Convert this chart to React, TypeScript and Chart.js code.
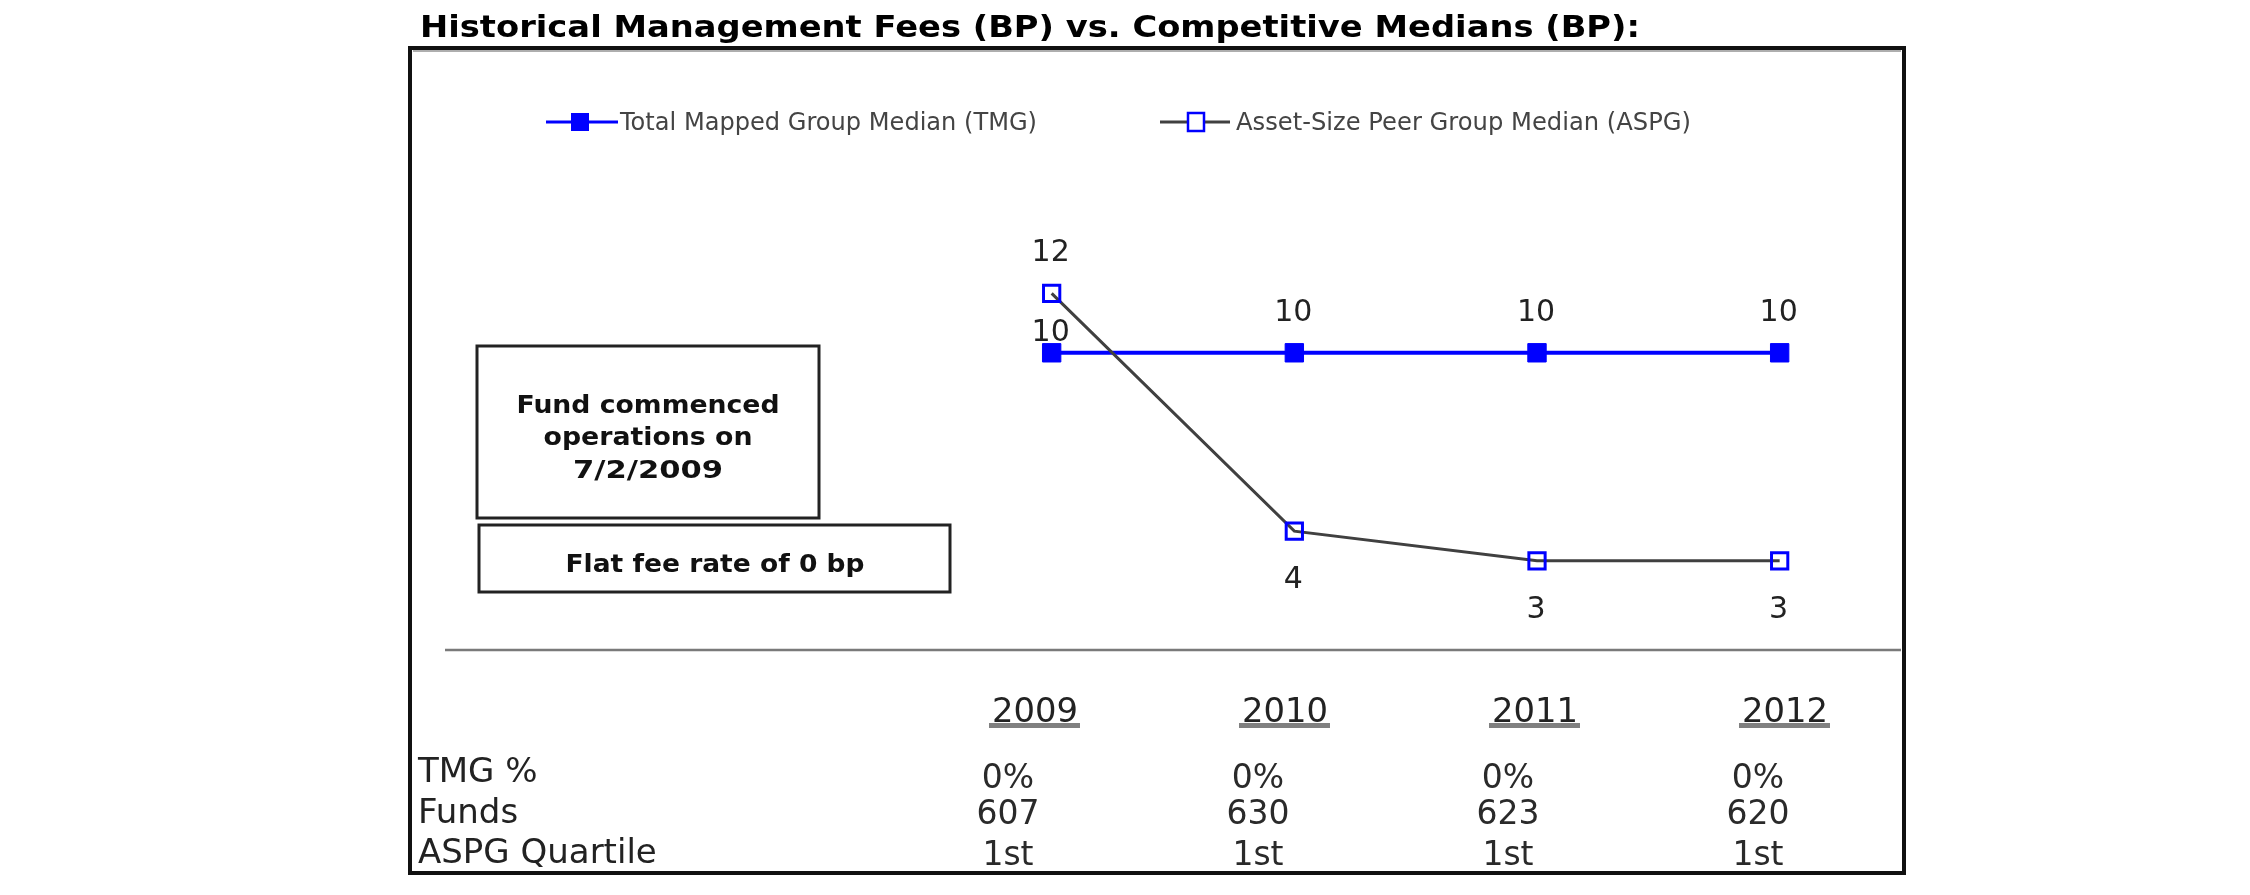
import React, { useEffect, useRef } from "react";
import { Chart, registerables } from "chart.js";

Chart.register(...registerables);

// ---------------- data ----------------
const TITLE = "Historical Management Fees (BP) vs. Competitive Medians (BP):";
const YEARS = [2009, 2010, 2011, 2012];
const TMG_VALUES = [10, 10, 10, 10];
const ASPG_VALUES = [12, 4, 3, 3];
const SERIES_NAMES = ["Total Mapped Group Median (TMG)", "Asset-Size Peer Group Median (ASPG)"];
const ROW_LABELS = ["TMG %", "Funds", "ASPG Quartile"];
const TMG_PCT = ["0%", "0%", "0%", "0%"];
const FUNDS = ["607", "630", "623", "620"];
const ASPG_QUARTILE = ["1st", "1st", "1st", "1st"];
const NOTE_COMMENCED = ["Fund commenced", "operations on", "7/2/2009"];
const NOTE_FEE = "Flat fee rate of 0 bp";

// label placement style (not data)
const TMG_LABEL_SIDE = ["inner", "above", "above", "above"];
const ASPG_LABEL_SIDE = ["above", "below", "below", "below"];

// ---------------- layout / style ----------------
const W = 2250;
const H = 895;
const X_MIN = 2006.5;
const X_MAX = 2012.5;
const Y_MIN = 0;
const Y_MAX = 16;
const BLUE = "#0000ff";
const DARK_LINE = "#404040";
const SANS = "'DejaVu Sans', Verdana, sans-serif";

function fitText(
  ctx: CanvasRenderingContext2D,
  text: string,
  x: number,
  y: number,
  font: string,
  color: string,
  targetWidth: number | null,
  align: "left" | "center"
) {
  ctx.save();
  ctx.font = font;
  ctx.fillStyle = color;
  ctx.textBaseline = "alphabetic";
  ctx.textAlign = "left";
  const w = ctx.measureText(text).width;
  const sx = targetWidth ? targetWidth / w : 1;
  const dw = w * sx;
  const left = align === "center" ? x - dw / 2 : x;
  ctx.translate(left, y);
  ctx.scale(sx, 1);
  ctx.fillText(text, 0, 0);
  ctx.restore();
  return { left, right: left + dw };
}

const decorPlugin = {
  id: "decor",
  beforeDatasetsDraw(chart: any) {
    const ctx: CanvasRenderingContext2D = chart.ctx;
    const { chartArea } = chart;
    const yScale = chart.scales.y;

    // title
    fitText(ctx, TITLE, 420, 37, `bold 30px ${SANS}`, "#000", 1220, "left");

    // outer frame
    ctx.save();
    ctx.strokeStyle = "#111";
    ctx.lineWidth = 4;
    ctx.strokeRect(410, 48, 1494, 825);
    ctx.strokeStyle = "rgba(120,120,120,0.6)";
    ctx.lineWidth = 2;
    ctx.beginPath();
    ctx.moveTo(413, 51);
    ctx.lineTo(1901, 51);
    ctx.stroke();
    ctx.restore();

    // legend
    const ly = 122;
    ctx.save();
    ctx.lineWidth = 3;
    ctx.strokeStyle = BLUE;
    ctx.beginPath();
    ctx.moveTo(546, ly);
    ctx.lineTo(618, ly);
    ctx.stroke();
    ctx.fillStyle = BLUE;
    ctx.fillRect(571, ly - 9, 18, 18);
    ctx.strokeStyle = DARK_LINE;
    ctx.beginPath();
    ctx.moveTo(1160, ly);
    ctx.lineTo(1230, ly);
    ctx.stroke();
    ctx.fillStyle = "#fff";
    ctx.fillRect(1188, ly - 9, 16, 18);
    ctx.strokeStyle = BLUE;
    ctx.lineWidth = 2.5;
    ctx.strokeRect(1188, ly - 9, 16, 18);
    ctx.restore();
    fitText(ctx, SERIES_NAMES[0], 620, 130, `25px ${SANS}`, "#444", 417, "left");
    fitText(ctx, SERIES_NAMES[1], 1236, 130, `25px ${SANS}`, "#444", 455, "left");

    // note boxes
    ctx.save();
    ctx.strokeStyle = "#222";
    ctx.lineWidth = 3;
    ctx.strokeRect(477, 346, 342, 172);
    ctx.strokeRect(479, 525, 471, 67);
    ctx.restore();
    const noteWidths = [263, 209, 150];
    const noteBase = [413, 445, 478];
    NOTE_COMMENCED.forEach((t, i) =>
      fitText(ctx, t, 648, noteBase[i], `bold 24px ${SANS}`, "#111", noteWidths[i], "center")
    );
    fitText(ctx, NOTE_FEE, 715, 572, `bold 25px ${SANS}`, "#111", 299, "center");

    // zero baseline separator
    const y0 = yScale.getPixelForValue(0);
    ctx.save();
    ctx.strokeStyle = "#7a7a7a";
    ctx.lineWidth = 2.5;
    ctx.beginPath();
    ctx.moveTo(chartArea.left, y0);
    ctx.lineTo(chartArea.right, y0);
    ctx.stroke();
    ctx.restore();

    // table below chart
    const colStart = 1008;
    const colStep = 250;
    const yearOffset = 27;
    YEARS.forEach((yr, i) => {
      const cx = colStart + i * colStep + yearOffset;
      const r = fitText(ctx, String(yr), cx, 722, `33px ${SANS}`, "#222", 86, "center");
      ctx.save();
      ctx.fillStyle = "#808080";
      ctx.fillRect(r.left - 3, 723, r.right - r.left + 5, 5);
      ctx.restore();
    });
    const labelBase = [782, 823, 863];
    const valueBase = [788, 824, 865];
    ROW_LABELS.forEach((lab, r) => fitText(ctx, lab, 418, labelBase[r], `34px ${SANS}`, "#222", null, "left"));
    const rows = [TMG_PCT, FUNDS, ASPG_QUARTILE];
    rows.forEach((row, r) =>
      row.forEach((v, i) =>
        fitText(ctx, v, colStart + i * colStep, valueBase[r], `33px ${SANS}`, "#2a2a2a", null, "center")
      )
    );
  },
  afterDatasetsDraw(chart: any) {
    const ctx: CanvasRenderingContext2D = chart.ctx;
    const offsets: Record<string, number> = { above: -32, inner: -12, below: 57 };
    const sides = [TMG_LABEL_SIDE, ASPG_LABEL_SIDE];
    const values = [TMG_VALUES, ASPG_VALUES];
    chart.data.datasets.forEach((_ds: any, di: number) => {
      const meta = chart.getDatasetMeta(di);
      meta.data.forEach((pt: any, i: number) => {
        fitText(
          ctx,
          String(values[di][i]),
          pt.x - 1,
          pt.y + offsets[sides[di][i]],
          `30px ${SANS}`,
          "#222",
          null,
          "center"
        );
      });
    });
  },
};

export default function App() {
  const ref = useRef<HTMLCanvasElement | null>(null);
  useEffect(() => {
    if (!ref.current) return;
    const chart = new Chart(ref.current, {
      type: "line",
      data: {
        datasets: [
          {
            label: SERIES_NAMES[0],
            data: YEARS.map((x, i) => ({ x, y: TMG_VALUES[i] })),
            borderColor: BLUE,
            borderWidth: 4,
            backgroundColor: BLUE,
            pointStyle: "rect",
            pointRadius: 13,
            pointBorderWidth: 1,
            pointBackgroundColor: BLUE,
            pointBorderColor: BLUE,
            order: 2,
            tension: 0,
          },
          {
            label: SERIES_NAMES[1],
            data: YEARS.map((x, i) => ({ x, y: ASPG_VALUES[i] })),
            borderColor: DARK_LINE,
            borderWidth: 3,
            backgroundColor: "rgba(255,255,255,0)",
            pointStyle: "rect",
            pointRadius: 11.5,
            pointBorderWidth: 3,
            pointBackgroundColor: "rgba(255,255,255,0)",
            pointBorderColor: BLUE,
            order: 1,
            tension: 0,
          },
        ],
      },
      options: {
        animation: false,
        responsive: false,
        devicePixelRatio: 1,
        layout: { padding: { left: 445, right: W - 1901, top: 650 - 16 * 29.72, bottom: H - 650 } },
        scales: {
          x: { type: "linear", min: X_MIN, max: X_MAX, display: false },
          y: { type: "linear", min: Y_MIN, max: Y_MAX, display: false },
        },
        plugins: {
          legend: { display: false },
          title: { display: false },
          tooltip: { enabled: false },
        },
        events: [],
      },
      plugins: [decorPlugin],
    });
    return () => chart.destroy();
  }, []);
  return (
    <canvas
      ref={ref}
      width={W}
      height={H}
      style={{ position: "absolute", left: 0, top: 0, width: W, height: H, background: "#fff" }}
    />
  );
}
